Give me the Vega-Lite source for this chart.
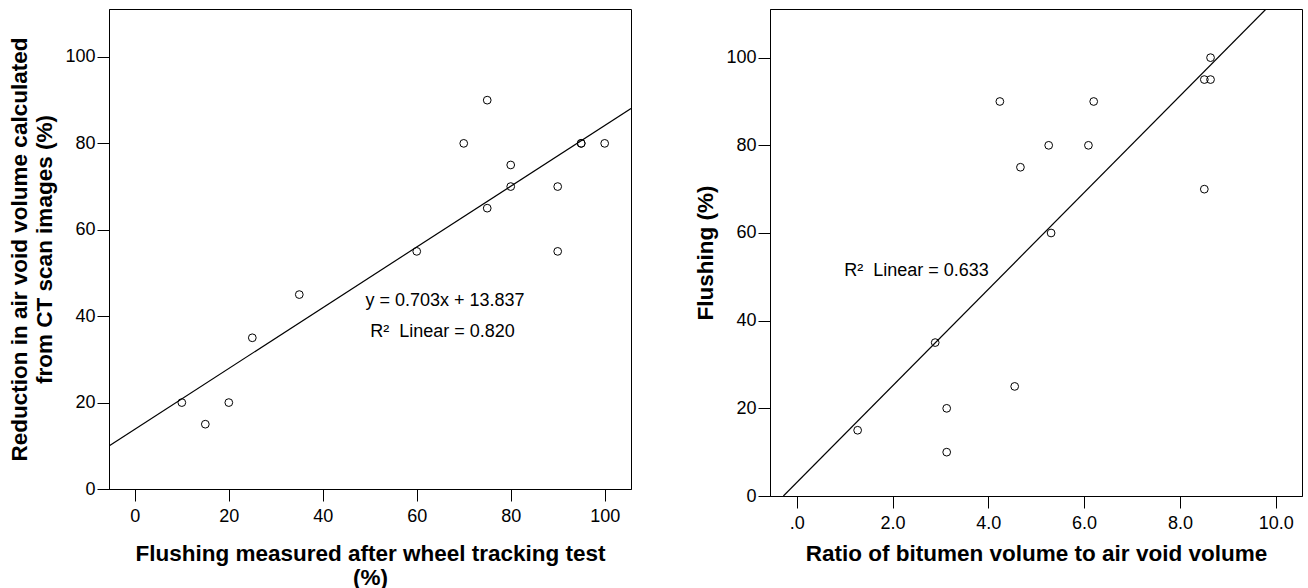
{
  "$schema": "https://vega.github.io/schema/vega-lite/v6.json",
  "padding": {"left": 8, "top": 8, "right": 4, "bottom": 0},
  "spacing": 62,
  "config": {
    "font": "Liberation Sans",
    "view": {"stroke": "black", "strokeWidth": 1},
    "axis": {
      "grid": false,
      "domainColor": "black",
      "tickColor": "black",
      "tickSize": 12,
      "labelColor": "black",
      "labelFontSize": 18,
      "labelFont": "Liberation Sans",
      "titleFont": "Liberation Sans",
      "titleFontSize": 22.5,
      "titleFontWeight": "bold",
      "titleColor": "black",
      "titleLineHeight": 25,
      "labelFlush": false,
      "labelOverlap": false
    },
    "axisX": {"labelPadding": 6, "titlePadding": 15},
    "axisY": {"labelPadding": 2, "titlePadding": 8}
  },
  "datasets": {
    "leftPoints": [
      {"flushing": 10, "reduction": 20},
      {"flushing": 15, "reduction": 15},
      {"flushing": 20, "reduction": 20},
      {"flushing": 25, "reduction": 35},
      {"flushing": 35, "reduction": 45},
      {"flushing": 60, "reduction": 55},
      {"flushing": 70, "reduction": 80},
      {"flushing": 75, "reduction": 90},
      {"flushing": 75, "reduction": 65},
      {"flushing": 80, "reduction": 75},
      {"flushing": 80, "reduction": 70},
      {"flushing": 90, "reduction": 70},
      {"flushing": 90, "reduction": 55},
      {"flushing": 95, "reduction": 80},
      {"flushing": 95, "reduction": 80},
      {"flushing": 100, "reduction": 80}
    ],
    "leftLine": [
      {"flushing": -5.5, "reduction": 9.97},
      {"flushing": 105.6, "reduction": 88.08}
    ],
    "leftText": [
      {"flushing": 66, "reduction": 43.6, "label": "y = 0.703x + 13.837"},
      {"flushing": 65.5, "reduction": 36.3, "label": "R²\u00a0 Linear = 0.820"}
    ],
    "rightPoints": [
      {"ratio": 1.27, "flushing": 15},
      {"ratio": 2.89, "flushing": 35},
      {"ratio": 3.13, "flushing": 20},
      {"ratio": 3.13, "flushing": 10},
      {"ratio": 4.24, "flushing": 90},
      {"ratio": 4.55, "flushing": 25},
      {"ratio": 4.67, "flushing": 75},
      {"ratio": 5.26, "flushing": 80},
      {"ratio": 5.31, "flushing": 60},
      {"ratio": 6.09, "flushing": 80},
      {"ratio": 6.2, "flushing": 90},
      {"ratio": 8.51, "flushing": 95},
      {"ratio": 8.64, "flushing": 95},
      {"ratio": 8.64, "flushing": 100},
      {"ratio": 8.51, "flushing": 70}
    ],
    "rightLine": [
      {"ratio": -0.28, "flushing": 0},
      {"ratio": 9.8, "flushing": 111.1}
    ],
    "rightText": [
      {"ratio": 2.5, "flushing": 51.4, "label": "R²\u00a0 Linear = 0.633"}
    ]
  },
  "hconcat": [
    {
      "width": 522,
      "height": 480,
      "encoding": {
        "x": {
          "field": "flushing", "type": "quantitative",
          "scale": {"domain": [-5.5, 105.6], "nice": false, "zero": false},
          "axis": {"values": [0, 20, 40, 60, 80, 100], "titlePadding": 17, "titleLineHeight": 24, "title": ["Flushing measured after wheel tracking test", "(%)"]}
        },
        "y": {
          "field": "reduction", "type": "quantitative",
          "scale": {"domain": [0, 111.1], "nice": false},
          "axis": {"values": [0, 20, 40, 60, 80, 100], "title": ["Reduction in air void volume calculated", "from CT scan images (%)"]}
        }
      },
      "layer": [
        {
          "data": {"name": "leftLine"},
          "mark": {"type": "line", "color": "black", "strokeWidth": 1.2, "clip": true}
        },
        {
          "data": {"name": "leftPoints"},
          "mark": {"type": "point", "shape": "circle", "filled": false, "color": "black", "size": 60, "strokeWidth": 1, "opacity": 1}
        },
        {
          "data": {"name": "leftText"},
          "mark": {"type": "text", "fontSize": 18, "align": "center", "baseline": "middle", "color": "black"},
          "encoding": {"text": {"field": "label"}}
        }
      ]
    },
    {
      "width": 532,
      "height": 487,
      "encoding": {
        "x": {
          "field": "ratio", "type": "quantitative",
          "scale": {"domain": [-0.56, 10.55], "nice": false, "zero": false},
          "axis": {"values": [0, 2, 4, 6, 8, 10], "titlePadding": 10, "labelExpr": "datum.value == 0 ? '.0' : format(datum.value, '.1f')", "title": "Ratio of bitumen volume to air void volume"}
        },
        "y": {
          "field": "flushing", "type": "quantitative",
          "scale": {"domain": [0, 111.1], "nice": false},
          "axis": {"values": [0, 20, 40, 60, 80, 100], "title": "Flushing (%)"}
        }
      },
      "layer": [
        {
          "data": {"name": "rightLine"},
          "mark": {"type": "line", "color": "black", "strokeWidth": 1.2, "clip": true}
        },
        {
          "data": {"name": "rightPoints"},
          "mark": {"type": "point", "shape": "circle", "filled": false, "color": "black", "size": 60, "strokeWidth": 1, "opacity": 1}
        },
        {
          "data": {"name": "rightText"},
          "mark": {"type": "text", "fontSize": 18, "align": "center", "baseline": "middle", "color": "black"},
          "encoding": {"text": {"field": "label"}}
        }
      ]
    }
  ]
}
